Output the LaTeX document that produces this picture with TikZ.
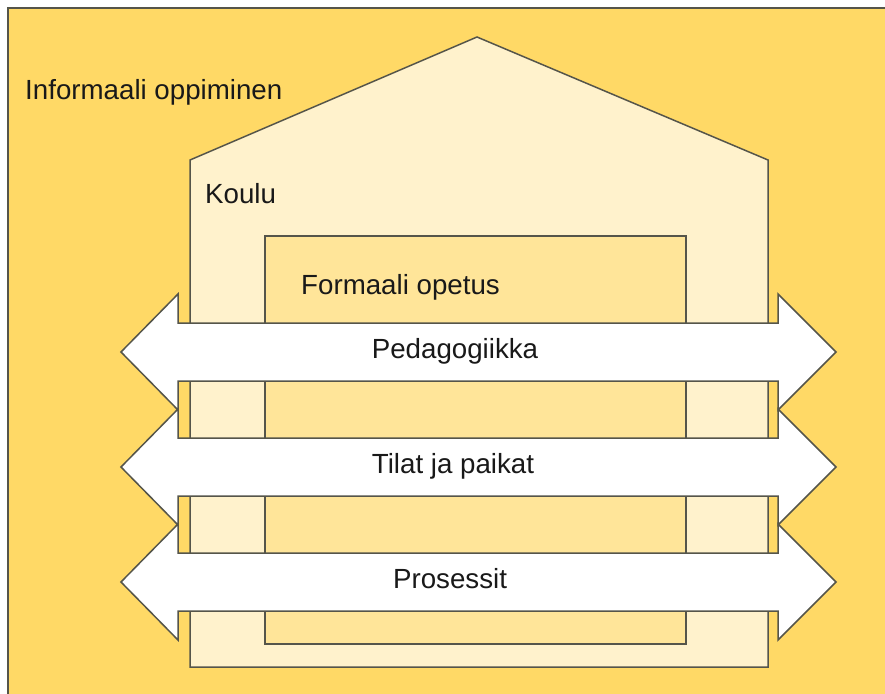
\documentclass[tikz,border=0pt]{standalone}
\usepackage{fontspec}
\setmainfont{Liberation Sans}
\definecolor{outery}{HTML}{FFD966}
\definecolor{housey}{HTML}{FFF2CC}
\definecolor{formaly}{HTML}{FFE599}
\definecolor{edge}{HTML}{55554A}
\begin{document}
\begin{tikzpicture}[x=1pt,y=-1pt,
  shapeline/.style={draw=edge,line width=1.5pt,line join=miter},
  lbl/.style={inner sep=0pt,font=\fontsize{27.7}{32}\selectfont,text=black!90}]
\useasboundingbox (0,0) rectangle (885,693);
\clip (0,0) rectangle (885,693);
% outer area
\fill[outery] (8,8) rectangle (900,710);
\draw[shapeline] (900,8) -- (8,8) -- (8,710);
% house
\draw[shapeline,fill=housey] (190,667) -- (190,160) -- (477,37) -- (768,160) -- (768,667) -- cycle;
% formal rectangle
\draw[shapeline,fill=formaly] (265,236) rectangle (686,644);
% arrows
\foreach \c in {352,467,582}{
  \draw[shapeline,fill=white] (121,\c) -- (178,\c-58) -- (178,\c-29) -- (778,\c-29) -- (778,\c-58)
    -- (836,\c) -- (778,\c+58) -- (778,\c+29) -- (178,\c+29) -- (178,\c+58) -- cycle;
}
% labels
\node[lbl,anchor=base west] (inf) at (25,99) {Informaali oppiminen};
\node[lbl,anchor=base west] (koulu) at (205,203) {Koulu};
\node[lbl,anchor=base west] (form) at (301,294) {Formaali opetus};
\node[lbl,anchor=base] (ped) at (455,358) {Pedagogiikka};
\node[lbl,anchor=base] (tilat) at (453,473) {Tilat ja paikat};
\node[lbl,anchor=base] (pros) at (450,588) {Prosessit};
\end{tikzpicture}
\end{document}
